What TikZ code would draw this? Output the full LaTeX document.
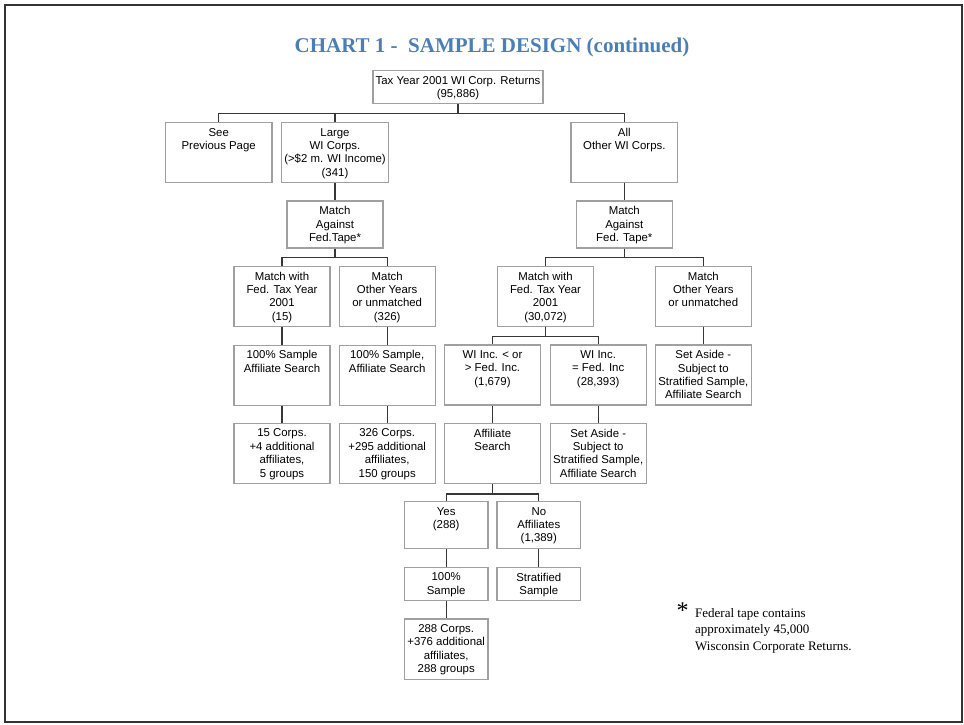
\documentclass[tikz,border=0pt]{standalone}
\usepackage{fontspec}
\setmainfont{Liberation Sans}
\newfontfamily\serifft{Liberation Serif}
\usetikzlibrary{positioning}

\definecolor{titleblue}{RGB}{74,126,180}
\definecolor{boxgray}{RGB}{160,160,160}
\definecolor{linegray}{RGB}{55,55,55}

\begin{document}
\begin{tikzpicture}[
    % pixel grid, y running downwards
    x=1pt, y=-1pt,
    box/.style 2 args={draw=boxgray, line width=1.4pt, anchor=north, inner sep=0pt,
        minimum width=#1pt, minimum height=#2pt},
    txt/.style={anchor=north, align=center, inner sep=0pt,
        font=\fontsize{11.4}{13.4}\selectfont},
    link/.style={draw=linegray, line width=1.3pt},
    title/.style={anchor=base, inner sep=0pt, text=titleblue,
        font=\serifft\bfseries\fontsize{21}{21}\selectfont},
    note/.style={anchor=north west, align=left, inner sep=0pt,
        font=\serifft\fontsize{13}{16.7}\selectfont}
]
    \useasboundingbox (0,0) rectangle (964,724);
    \draw[line width=1.5pt, draw=black!80] (5,5) rectangle (962,722);

    % --- Title ---
    \node[title] (ttl) at (492,52) {CHART 1 -\ \ SAMPLE DESIGN (continued)};

    % --- Top level ---
    \node[box={170}{33}] (ret) at (458,70) {};
    \node[txt] (ret-t) at ([yshift=-6pt]ret.north) {Tax Year 2001 WI Corp. Returns\\(95,886)};

    \node[box={106.7}{60}] (prev) at (218.7,122) {};
    \node[txt] (prev-t) at ([yshift=-6pt]prev.north) {See\\Previous Page};
    \node[box={106.7}{60}] (large) at (335,122) {};
    \node[txt] (large-t) at ([yshift=-6pt]large.north) {Large\\WI Corps.\\(>\$2 m. WI Income)\\(341)};
    \node[box={106.7}{60}] (other) at (624.3,122) {};
    \node[txt] (other-t) at ([yshift=-6pt]other.north) {All\\Other WI Corps.};

    \draw[link] (ret.south) -- ++(0,9.4) -| (prev.north);
    \draw[link] (ret.south) -- ++(0,9.4) -| (large.north);
    \draw[link] (ret.south) -- ++(0,9.4) -| (other.north);

    % --- Left branch: large corps ---
    \node[box={96}{47}] (matchL) at (335,200.3) {};
    \node[txt] (matchL-t) at ([yshift=-6pt]matchL.north) {Match\\Against\\Fed.Tape*};
    \draw[link] (large) -- (matchL);

    \node[box={96}{60.3}] (fed15) at (282,265.7) {};
    \node[txt] (fed15-t) at ([yshift=-6pt]fed15.north) {Match with\\Fed. Tax Year\\2001\\(15)};
    \node[box={96}{60.3}] (oth326) at (387.2,265.7) {};
    \node[txt] (oth326-t) at ([yshift=-6pt]oth326.north) {Match\\Other Years\\or unmatched\\(326)};
    \draw[link] (matchL.south) -- ++(0,8.7) -| (fed15.north);
    \draw[link] (matchL.south) -- ++(0,8.7) -| (oth326.north);

    \node[box={96}{60}] (samp15) at (282,344.5) {};
    \node[txt] (samp15-t) at ([yshift=-6pt]samp15.north) {100\% Sample\\Affiliate Search};
    \node[box={96}{60}] (samp326) at (387.2,344.5) {};
    \node[txt] (samp326-t) at ([yshift=-6pt]samp326.north) {100\% Sample,\\Affiliate Search};
    \draw[link] (fed15) -- (samp15);
    \draw[link] (oth326) -- (samp326);

    \node[box={96}{60}] (corps15) at (282,422.7) {};
    \node[txt] (corps15-t) at ([yshift=-6pt]corps15.north) {15 Corps.\\+4 additional\\affiliates,\\5 groups};
    \node[box={96}{60}] (corps326) at (387.2,422.7) {};
    \node[txt] (corps326-t) at ([yshift=-6pt]corps326.north) {326 Corps.\\+295 additional\\affiliates,\\150 groups};
    \draw[link] (samp15) -- (corps15);
    \draw[link] (samp326) -- (corps326);

    % --- Right branch: all other corps ---
    \node[box={96}{47}] (matchR) at (624.3,200.3) {};
    \node[txt] (matchR-t) at ([yshift=-6pt]matchR.north) {Match\\Against\\Fed. Tape*};
    \draw[link] (other) -- (matchR);

    \node[box={96}{60.3}] (fed30) at (545.5,265.7) {};
    \node[txt] (fed30-t) at ([yshift=-6pt]fed30.north) {Match with\\Fed. Tax Year\\2001\\(30,072)};
    \node[box={96}{60.3}] (othR) at (703.3,265.7) {};
    \node[txt] (othR-t) at ([yshift=-6pt]othR.north) {Match\\Other Years\\or unmatched};
    \draw[link] (matchR.south) -- ++(0,8.7) -| (fed30.north);
    \draw[link] (matchR.south) -- ++(0,8.7) -| (othR.north);

    \node[box={96}{60}] (asideR) at (703.3,344.3) {};
    \node[txt] (asideR-t) at ([yshift=-6pt]asideR.north) {Set Aside -\\Subject to\\Stratified Sample,\\Affiliate Search};
    \draw[link] (othR) -- (asideR);

    \node[box={96}{60}] (less) at (492.5,344.3) {};
    \node[txt] (less-t) at ([yshift=-6pt]less.north) {WI Inc. < or\\> Fed. Inc.\\(1,679)};
    \node[box={96}{60}] (equal) at (598.2,344.3) {};
    \node[txt] (equal-t) at ([yshift=-6pt]equal.north) {WI Inc.\\= Fed. Inc\\(28,393)};
    \draw[link] (fed30.south) -- ++(0,9.3) -| (less.north);
    \draw[link] (fed30.south) -- ++(0,9.3) -| (equal.north);

    \node[box={96}{60}] (affil) at (492.5,422.7) {};
    \node[txt] (affil-t) at ([yshift=-6pt]affil.north) {Affiliate\\Search};
    \node[box={96}{60}] (asideM) at (598.2,422.7) {};
    \node[txt] (asideM-t) at ([yshift=-6pt]asideM.north) {Set Aside -\\Subject to\\Stratified Sample,\\Affiliate Search};
    \draw[link] (less) -- (affil);
    \draw[link] (equal) -- (asideM);

    % --- Affiliate search outcome ---
    \node[box={83.7}{47}] (yes) at (446.2,501) {};
    \node[txt] (yes-t) at ([yshift=-6pt]yes.north) {Yes\\(288)};
    \node[box={83.7}{47}] (no) at (538.8,501) {};
    \node[txt] (no-t) at ([yshift=-6pt]no.north) {No\\Affiliates\\(1,389)};
    \draw[link] (affil.south) -- ++(0,10) -| (yes.north);
    \draw[link] (affil.south) -- ++(0,10) -| (no.north);

    \node[box={83.7}{33.3}] (samp288) at (446.2,566.7) {};
    \node[txt] (samp288-t) at ([yshift=-6pt]samp288.north) {100\%\\Sample};
    \node[box={83.7}{33.3}] (strat) at (538.8,566.7) {};
    \node[txt] (strat-t) at ([yshift=-6pt]strat.north) {Stratified\\Sample};
    \draw[link] (yes) -- (samp288);
    \draw[link] (no) -- (strat);

    \node[box={83.7}{60.7}] (corps288) at (446.2,618.3) {};
    \node[txt] (corps288-t) at ([yshift=-6pt]corps288.north) {288 Corps.\\+376 additional\\affiliates,\\288 groups};
    \draw[link] (samp288) -- (corps288);

    % --- Footnote ---
    \node[anchor=base, inner sep=0pt, font=\serifft\fontsize{24}{24}\selectfont] (star) at (682.5,618) {*};
    \node[note] (fnote) at (695,607.8) {Federal tape contains\\approximately 45,000\\Wisconsin Corporate Returns.};
\end{tikzpicture}
\end{document}
